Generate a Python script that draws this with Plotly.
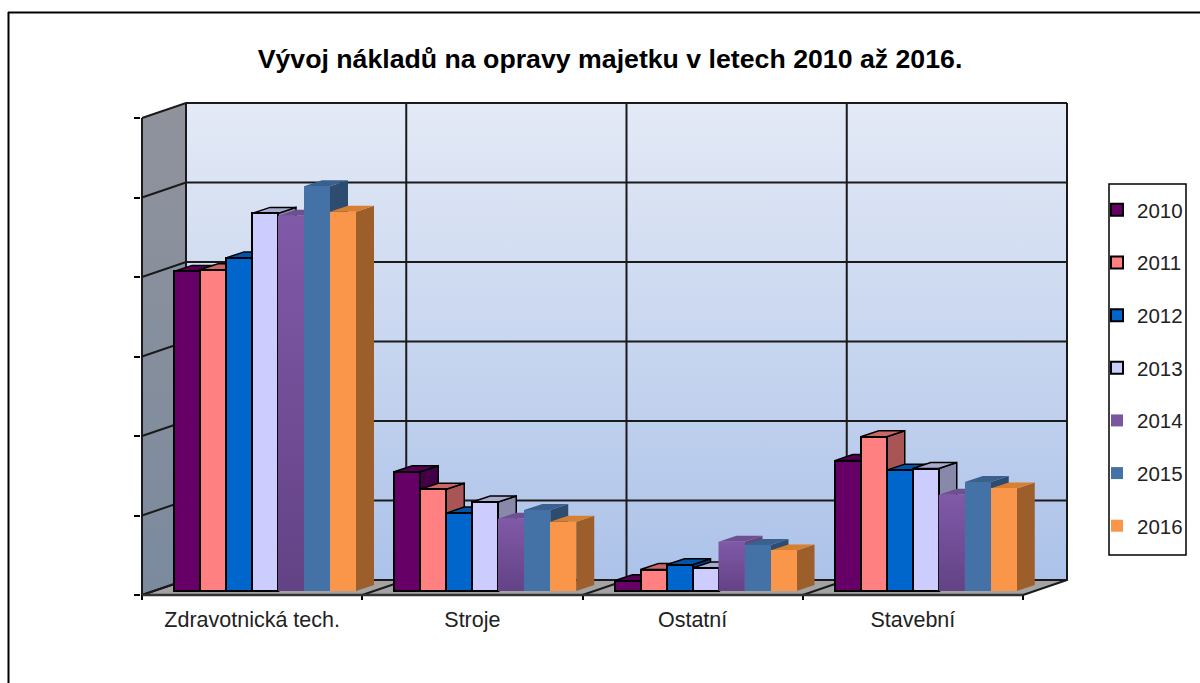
import plotly.graph_objects as go

categories = ["Zdravotnická tech.", "Stroje", "Ostatní", "Stavební"]
years = ["2010", "2011", "2012", "2013", "2014", "2015", "2016"]
v2010 = [4.02, 1.50, 0.13, 1.64]
v2011 = [4.04, 1.28, 0.27, 1.94]
v2012 = [4.19, 0.98, 0.33, 1.52]
v2013 = [4.75, 1.12, 0.29, 1.54]
v2014 = [4.72, 0.91, 0.62, 1.21]
v2015 = [5.09, 1.02, 0.58, 1.37]
v2016 = [4.77, 0.87, 0.51, 1.29]
series = [v2010, v2011, v2012, v2013, v2014, v2015, v2016]
front = ["#660066", "#FF8080", "#0066CC", "#CCCCFF", "#7A569F", "#4472A6", "#F99649"]
top = ["#550055", "#CC6666", "#0055AA", "#AAAACC", "#6E4F91", "#3A618E", "#D88030"]
side = ["#440044", "#AA5555", "#004488", "#8888AA", "#5F4A7C", "#2E4C70", "#9C5F2B"]
outlined = [True, True, True, True, False, False, False]

UX, UY = 220.25, 79.5       # pixels per category / per gridline step
L, R, T, B = 141, 1075, 95, 600   # plot area in pixels
ZERO_Y = 595
WALL_DX, WALL_DY = 44 / UX, 15 / UY
BAR_DX, BAR_DY = 18 / UX, 6 / UY
BASE = 4 / UY
BAR_W, BAR_START = 26 / UX, 32 / UX
STEPS, NCAT = 6, 4


def px(x):
    return (x - L) / (R - L)


def py(y):
    return (B - y) / (B - T)


fig = go.Figure()


def poly(xs, ys, z, fill=None, line=None, lw=1.5, grad=None):
    kw = dict(x=xs, y=ys, mode="lines", hoverinfo="skip", showlegend=False, zorder=z,
              line=dict(color=line or "rgba(0,0,0,0)", width=lw if line else 0))
    if fill or grad:
        kw["fill"] = "toself"
    if fill:
        kw["fillcolor"] = fill
    if grad:
        kw["fillgradient"] = dict(type="vertical", colorscale=grad)
    fig.add_trace(go.Scatter(**kw))


# Back wall, left wall, floor
poly([WALL_DX, NCAT + WALL_DX, NCAT + WALL_DX, WALL_DX, WALL_DX],
     [WALL_DY, WALL_DY, STEPS + WALL_DY, STEPS + WALL_DY, WALL_DY], 0,
     grad=[[0, "#ACC2E9"], [1, "#E4EAF6"]])
poly([0, WALL_DX, WALL_DX, 0, 0], [0, WALL_DY, STEPS + WALL_DY, STEPS, 0], 0,
     grad=[[0, "#7B8A9E"], [1, "#90939C"]])
poly([0, NCAT, NCAT + WALL_DX, WALL_DX, 0], [0, 0, WALL_DY, WALL_DY, 0], 0, fill="#A3A3A3")

# Grid on walls and floor
for k in range(STEPS + 1):
    poly([0, WALL_DX, NCAT + WALL_DX], [k, k + WALL_DY, k + WALL_DY], 1, line="#1a1a1a", lw=2)
for i in range(NCAT + 1):
    poly([i, i + WALL_DX, i + WALL_DX], [0, WALL_DY, STEPS + WALL_DY], 1, line="#1a1a1a", lw=2)
poly([0, 0], [0, STEPS], 1, line="#1a1a1a", lw=2)
poly([0, NCAT], [0, 0], 1, line="#333333", lw=2.5)

# Bars
for j, vals in enumerate(series):
    z = 10 + 3 * j
    x0s = [i + BAR_START + j * BAR_W for i in range(NCAT)]
    edge = "#000000" if outlined[j] else None
    sx, sy, tx, ty = [], [], [], []
    for x0, v in zip(x0s, vals):
        x1 = x0 + BAR_W
        y1 = BASE + v
        sx += [x1, x1, x1 + BAR_DX, x1 + BAR_DX, x1, None]
        sy += [BASE, y1, y1 + BAR_DY, BASE + BAR_DY, BASE, None]
        tx += [x0, x1, x1 + BAR_DX, x0 + BAR_DX, x0, None]
        ty += [y1, y1, y1 + BAR_DY, y1 + BAR_DY, y1, None]
    poly(sx, sy, z, fill=side[j], line=edge)
    poly(tx, ty, z, fill=top[j], line=edge)
    fig.add_trace(go.Bar(
        x=list(range(NCAT)), y=vals, base=BASE, width=BAR_W, offset=BAR_START + j * BAR_W,
        name=years[j], legendgroup=years[j], zorder=z + 1, hoverinfo="skip",
        marker=dict(color=front[j], line=dict(color="#000000", width=2 if outlined[j] else 0)),
    ))
    if years[j] == "2014":
        for x0, v in zip(x0s, vals):
            x1 = x0 + BAR_W
            poly([x0, x1, x1, x0, x0], [BASE, BASE, BASE + v, BASE + v, BASE], z + 2,
                 grad=[[0, "#634285"], [1, "#8059A8"]])

frame = [
    dict(type="line", xref="paper", yref="paper", x0=px(8), x1=px(1200), y0=py(12.5), y1=py(12.5),
         line=dict(color="#000000", width=2)),
    dict(type="line", xref="paper", yref="paper", x0=px(8.5), x1=px(8.5), y0=py(12), y1=py(683),
         line=dict(color="#000000", width=2)),
    dict(type="rect", xref="paper", yref="paper", x0=px(1109), x1=px(1186), y0=py(184), y1=py(555),
         line=dict(color="#000000", width=1.5), fillcolor="rgba(0,0,0,0)"),
]

fig.update_layout(
    width=1200, height=683, autosize=False,
    margin=dict(l=L, r=1200 - R, t=T, b=683 - B, autoexpand=False),
    paper_bgcolor="#FFFFFF", plot_bgcolor="#FFFFFF",
    barmode="overlay", bargap=0,
    font=dict(family="Liberation Sans", color="#222222"),
    title=dict(text="Vývoj nákladů na opravy majetku v letech 2010 až 2016.",
               x=610 / 1200, xanchor="center", y=1 - 59 / 683, yanchor="middle",
               font=dict(size=26.7, family="Liberation Sans", color="#000000", weight="bold")),
    xaxis=dict(range=[(L - 142) / UX, (R - 142) / UX], tickmode="array",
               tickvals=[i + 0.5 for i in range(NCAT)], ticktext=categories,
               ticks="", showgrid=False, zeroline=False, showline=False,
               tickfont=dict(size=21.5, color="#222222"), ticklabelstandoff=4,
               minor=dict(ticks="inside", ticklen=5, tick0=0, dtick=1, tickcolor="#000000",
                          tickwidth=1.5, showgrid=False)),
    yaxis=dict(range=[(ZERO_Y - B) / UY, (ZERO_Y - T) / UY], tickmode="array",
               tickvals=list(range(STEPS + 1)), ticks="outside", ticklen=6, tickwidth=1.5,
               tickcolor="#000000", showticklabels=False, showgrid=False, zeroline=False,
               showline=False),
    legend=dict(x=px(1097), xanchor="left", y=py(190), yanchor="top",
                bgcolor="rgba(0,0,0,0)", borderwidth=0, traceorder="grouped",
                tracegroupgap=23, font=dict(size=20.5, color="#222222")),
    shapes=frame,
)

fig.write_html("out.html", config={"displayModeBar": False},
               post_script="document.body.style.margin='0';")
